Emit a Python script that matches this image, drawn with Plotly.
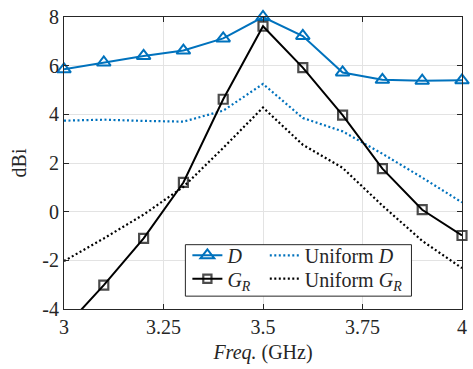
import plotly.graph_objects as go

freq = [3.0, 3.1, 3.2, 3.3, 3.4, 3.5, 3.6, 3.7, 3.8, 3.9, 4.0]
D = [5.85, 6.13, 6.4, 6.62, 7.12, 8.0, 7.22, 5.72, 5.42, 5.38, 5.4]
GR = [-4.8, -3.02, -1.1, 1.2, 4.62, 7.62, 5.92, 3.97, 1.77, 0.08, -0.98]
UD = [3.74, 3.78, 3.73, 3.7, 4.15, 5.25, 3.85, 3.3, 2.38, 1.4, 0.38]
UGR = [-2.03, -1.1, -0.12, 1.02, 2.62, 4.28, 2.75, 1.8, 0.25, -1.2, -2.32]

xticks = [3, 3.25, 3.5, 3.75, 4]
xticklabels = ["3", "3.25", "3.5", "3.75", "4"]
yticks = [-4, -2, 0, 2, 4, 6, 8]
yticklabels = ["-4", "-2", "0", "2", "4", "6", "8"]

YMIN, YMAX = -4, 8
BLUE = "#0072BD"
FONT = "Liberation Serif, Times New Roman, serif"
FS = 20
TXT = "#262626"

fig = go.Figure()
fig.add_trace(go.Scatter(
    x=freq, y=UD, mode="lines", name="Uniform <i>D</i>",
    line=dict(color=BLUE, width=2.2, dash="2px,2.5px"), legend="legend3"))
fig.add_trace(go.Scatter(
    x=freq, y=UGR, mode="lines", name="Uniform <i>G</i><sub><i>R</i></sub>",
    line=dict(color="black", width=2.2, dash="2px,2.5px"), legend="legend4"))
fig.add_trace(go.Scatter(
    x=freq, y=D, mode="lines+markers", name="<i>D</i>",
    line=dict(color=BLUE, width=2),
    marker=dict(symbol="triangle-up-open", size=12, color=BLUE, line=dict(width=2, color=BLUE)),
    cliponaxis=False, legend="legend"))
fig.add_trace(go.Scatter(
    x=freq, y=GR, mode="lines+markers", name="<i>G</i><sub><i>R</i></sub>",
    line=dict(color="black", width=2),
    marker=dict(symbol="square-open", size=[9 if v >= YMIN else 0 for v in GR],
                color="black", line=dict(width=2.2, color="black")),
    cliponaxis=False, legend="legend2"))

axis_common = dict(
    showline=True, linecolor=TXT, linewidth=1, mirror="allticks",
    ticks="inside", ticklen=5, tickcolor=TXT,
    showgrid=True, gridcolor="#e3e3e3", gridwidth=1, zeroline=False,
    tickfont=dict(family=FONT, size=FS, color=TXT),
)

leg_common = dict(xanchor="left", yanchor="top", bgcolor="rgba(0,0,0,0)",
                  font=dict(family=FONT, size=FS, color=TXT), tracegroupgap=0)

fig.update_layout(
    width=473, height=369,
    margin=dict(l=64, r=6, t=14, b=60),
    font=dict(family=FONT, size=FS, color=TXT),
    plot_bgcolor="white", paper_bgcolor="white",
    showlegend=True,
    xaxis=dict(range=[3, 4], tickvals=xticks, ticktext=xticklabels,
               title=dict(text="<i>Freq.</i> (GHz)", font=dict(family=FONT, size=FS, color=TXT), standoff=7),
               **axis_common),
    yaxis=dict(range=[YMIN, YMAX], tickvals=yticks, ticktext=yticklabels,
               title=dict(text="dBi", font=dict(family=FONT, size=FS, color=TXT), standoff=10),
               **axis_common),
    legend=dict(x=0.31, y=0.2505, **leg_common),
    legend2=dict(x=0.31, y=0.1705, **leg_common),
    legend3=dict(x=0.5045, y=0.2505, **leg_common),
    legend4=dict(x=0.5045, y=0.1705, **leg_common),
    shapes=[dict(type="rect", xref="paper", yref="paper", x0=0.305, x1=0.873, y0=0.044, y1=0.2203,
                 line=dict(color=TXT, width=1), fillcolor="white", layer="above")],
)

fig.write_html("out.html")
